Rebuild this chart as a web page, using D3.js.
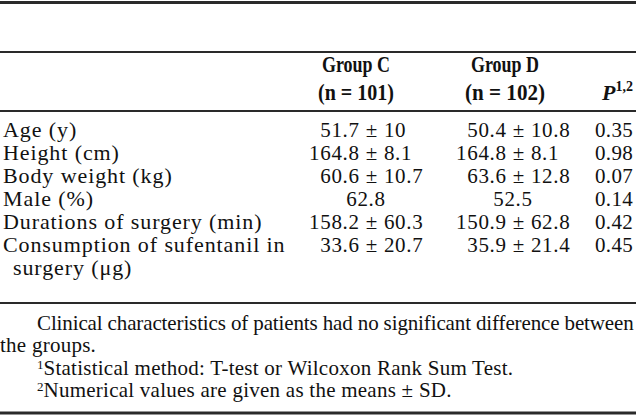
<!DOCTYPE html>
<html><head><meta charset="utf-8">
<script src="https://cdn.jsdelivr.net/npm/d3@7"></script>
<style>body{margin:0;background:#fff}svg{display:block}text{font-family:"Liberation Serif","Times New Roman",serif;fill:#111}</style>
</head><body><div id="c"></div>
<script>
const rowLabels = [["Age (y)"],["Height (cm)"],["Body weight (kg)"],["Male (%)"],["Durations of surgery (min)"],["Consumption of sufentanil in","surgery (μg)"]];
const groupCMean = ["51.7","164.8","60.6","62.8","158.2","33.6"];
const groupCSD   = ["10","8.1","10.7",null,"60.3","20.7"];
const groupDMean = ["50.4","164.8","63.6","52.5","150.9","35.9"];
const groupDSD   = ["10.8","8.1","12.8",null,"62.8","21.4"];
const pValues    = ["0.35","0.98","0.07","0.14","0.42","0.45"];
const headers = [["Group C","(n = 101)"],["Group D","(n = 102)"]];
const footnotes = [
  {sup:"", text:"Clinical characteristics of patients had no significant difference between", indent:true, justify:true},
  {sup:"", text:"the groups.", indent:false},
  {sup:"1", text:"Statistical method: T-test or Wilcoxon Rank Sum Test.", indent:true},
  {sup:"2", text:"Numerical values are given as the means ± SD.", indent:true}
];

const W=636,H=419;
const svg=d3.select("#c").append("svg").attr("width",W).attr("height",H);
const fsLab=22, lsLab=0.9, fsNum=21, lsNum=0.7;
const colLeft=d3.scaleOrdinal().domain(["C","D"]).range([309,456]);
const colMid=d3.scaleOrdinal().domain(["C","D"]).range([366,513]);
const pRight=633;
const y=d3.scaleLinear().domain([0,1]).range([137,160]);
const rules=[{y:2.5,w:3},{y:52,w:2},{y:111,w:2},{y:303,w:2},{y:413,w:3}];
svg.selectAll("line.rule").data(rules).join("line").attr("class","rule")
  .attr("x1",0).attr("x2",W).attr("y1",d=>d.y).attr("y2",d=>d.y)
  .attr("stroke","#2a2a2a").attr("stroke-width",d=>d.w);

// headers
const hdrX=d3.scaleOrdinal().domain([0,1]).range([356,505]);
headers.forEach((h,i)=>{
  svg.append("text").attr("x",hdrX(i)).attr("y",72).attr("text-anchor","middle")
    .attr("font-size",23).attr("font-weight","bold").attr("textLength",68).attr("lengthAdjust","spacingAndGlyphs").text(h[0]);
  svg.append("text").attr("x",hdrX(i)).attr("y",100).attr("text-anchor","middle")
    .attr("font-size",23).attr("font-weight","bold").attr("textLength",i?80:76).attr("lengthAdjust","spacingAndGlyphs").text(h[1]);
});
const pt=svg.append("text").attr("x",pRight).attr("y",100).attr("text-anchor","end").attr("font-size",22).attr("font-weight","bold");
pt.append("tspan").attr("font-style","italic").text("P");
pt.append("tspan").attr("font-size",14).attr("dy",-9).text("1,2");

// digit width for figure padding
const probe=svg.append("text").attr("font-size",fsNum).attr("letter-spacing",lsNum).text("0");
const digitW=probe.node().getComputedTextLength();
probe.remove();

// rows
let line=0;
rowLabels.forEach((lab,i)=>{
  const yy=y(line);
  lab.forEach((t,j)=>{
    svg.append("text").attr("x",j?13:3).attr("y",y(line+j)).attr("font-size",fsLab).attr("letter-spacing",lsLab).text(t);
  });
  [["C",groupCMean[i],groupCSD[i]],["D",groupDMean[i],groupDSD[i]]].forEach(([g,m,sd])=>{
    if(sd!==null){
      const intDigits=m.split(".")[0].length;
      svg.append("text").attr("x",colLeft(g)+(3-intDigits)*digitW).attr("y",yy)
        .attr("font-size",fsNum).attr("letter-spacing",lsNum).text(m+" ± "+sd);
    } else {
      svg.append("text").attr("x",colMid(g)).attr("y",yy).attr("text-anchor","middle")
        .attr("font-size",fsNum).attr("letter-spacing",lsNum).text(m);
    }
  });
  svg.append("text").attr("x",pRight).attr("y",yy).attr("text-anchor","end").attr("font-size",fsNum).attr("letter-spacing",0.3).text(pValues[i]);
  line+=lab.length;
});

// footnotes
const fy=d3.scaleLinear().domain([0,3]).range([330,397]);
footnotes.forEach((f,i)=>{
  const t=svg.append("text").attr("x",f.indent?37:0).attr("y",fy(i)).attr("font-size",21).attr("letter-spacing",0.25);
  if(f.sup){t.append("tspan").attr("font-size",13).attr("dy",-6).attr("letter-spacing",0).text(f.sup);
    t.append("tspan").attr("dy",6).text(f.text);} else t.text(f.text);
  if(f.justify) t.attr("textLength",W-37-2).attr("lengthAdjust","spacing");
});
</script></body></html>
